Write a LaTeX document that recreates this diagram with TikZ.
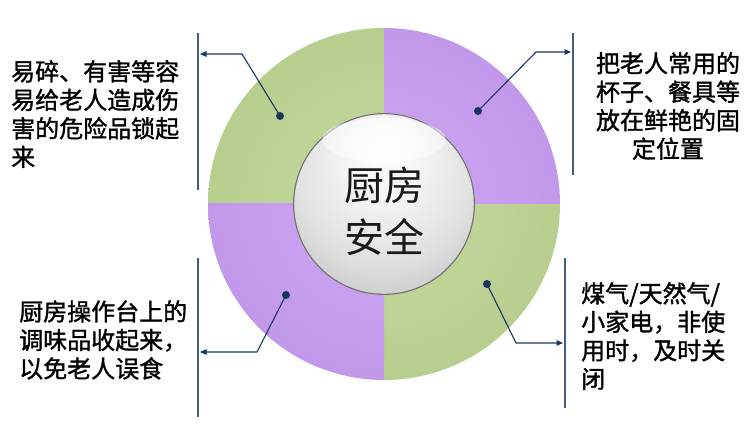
\documentclass[tikz,border=0pt]{standalone}
\usepackage{fontspec}
\newfontfamily\cjk{Noto Sans CJK SC}
\newfontfamily\cjkb[FakeBold=1.3]{Noto Sans CJK SC}
\usetikzlibrary{arrows.meta}
\definecolor{gA}{RGB}{184,206,142}
\definecolor{gB}{RGB}{198,217,160}
\definecolor{gC}{RGB}{156,184,110}
\definecolor{pA}{RGB}{194,152,234}
\definecolor{pB}{RGB}{207,167,246}
\definecolor{pC}{RGB}{172,124,222}
\definecolor{navy}{RGB}{23,55,94}
\definecolor{vline}{RGB}{70,92,132}
\pgfdeclareradialshading{greenring}{\pgfpoint{0bp}{0bp}}{color(0bp)=(gB); color(25bp)=(gA); color(29bp)=(gB); color(45bp)=(gB); color(48.5bp)=(gA); color(50bp)=(gC)}
\pgfdeclareradialshading{purplering}{\pgfpoint{0bp}{0bp}}{color(0bp)=(pB); color(25bp)=(pA); color(29bp)=(pB); color(45bp)=(pB); color(48.5bp)=(pA); color(50bp)=(pC)}
\pgfdeclareradialshading{sphereshade}{\pgfpoint{0bp}{16bp}}{color(0bp)=(white); color(12bp)=(white!95!black); color(24bp)=(black!12); color(34bp)=(black!22); color(42bp)=(black!36); color(47bp)=(black!55); color(50bp)=(black!70)}
\tikzset{
  dotnode/.style={circle, fill=navy, inner sep=0pt, minimum size=8pt},
  conn/.style={draw=navy, line width=1.1pt, -{Triangle[length=6.5pt,width=5.5pt]}},
  sideline/.style={draw=vline, line width=1.4pt},
  sidetext/.style={font={\cjkb\fontsize{24}{28.5}\selectfont}, inner sep=0pt, text=black},
  centertext/.style={font={\cjk\fontsize{40}{52}\selectfont}, inner sep=0pt, align=center, text=black!90}
}
\begin{document}
\begin{tikzpicture}[x=1pt,y=-1pt]
\useasboundingbox (0,0) rectangle (753,441);
\coordinate (c) at (384,204);
% ring quadrants
\begin{scope}
  \clip (c) rectangle (0,0);
  \shade[shading=greenring] (c) circle[radius=176];
\end{scope}
\begin{scope}
  \clip (c) rectangle (753,441);
  \shade[shading=greenring] (c) circle[radius=176];
\end{scope}
\begin{scope}
  \clip (c) rectangle (753,0);
  \shade[shading=purplering] (c) circle[radius=176];
\end{scope}
\begin{scope}
  \clip (c) rectangle (0,441);
  \shade[shading=purplering] (c) circle[radius=176];
\end{scope}
% sphere
\shade[shading=sphereshade] (384,204) circle[radius=91];
\draw[black!55, line width=1.2pt] (384,204) circle[radius=90.4];
\fill[white, opacity=0.5] (384,140) ellipse[x radius=62, y radius=22];
\node[centertext] (ctr) at (384,211) {厨房\\安全};
% side lines
\coordinate (l1a) at (198,33);  \coordinate (l1b) at (198,190);
\coordinate (l2a) at (573,33);  \coordinate (l2b) at (573,175);
\coordinate (l3a) at (198,258); \coordinate (l3b) at (198,417);
\coordinate (l4a) at (565,258); \coordinate (l4b) at (565,408);
\draw[sideline] (l1a) -- (l1b);
\draw[sideline] (l2a) -- (l2b);
\draw[sideline] (l3a) -- (l3b);
\draw[sideline] (l4a) -- (l4b);
% dots
\node[dotnode] (d1) at (280,116) {};
\node[dotnode] (d2) at (478,111) {};
\node[dotnode] (d3) at (286,295) {};
\node[dotnode] (d4) at (487,284) {};
% knees and ends
\coordinate (k1) at (242,54);  \coordinate (e1) at (200,54);
\coordinate (k2) at (536,52);  \coordinate (e2) at (571,52);
\coordinate (k3) at (257,352); \coordinate (e3) at (200,352);
\coordinate (k4) at (516,343); \coordinate (e4) at (563,343);
\draw[conn] (d1.center) -- (k1) -- (e1);
\draw[conn] (d2.center) -- (k2) -- (e2);
\draw[conn] (d3.center) -- (k3) -- (e3);
\draw[conn] (d4.center) -- (k4) -- (e4);
% texts
\node[sidetext, anchor=west, align=left] (t1) at (11,114) {易碎、有害等容\\易给老人造成伤\\害的危险品锁起\\来};
\node[sidetext, align=center] (t2) at (668,106) {把老人常用的\\杯子、餐具等\\放在鲜艳的固\\定位置};
\node[sidetext, anchor=west, align=left] (t3) at (19,340) {厨房操作台上的\\调味品收起来，\\以免老人误食};
\node[sidetext, anchor=west, align=left] (t4) at (581,336) {煤气/天然气/\\小家电，非使\\用时，及时关\\闭};
\end{tikzpicture}
\end{document}
